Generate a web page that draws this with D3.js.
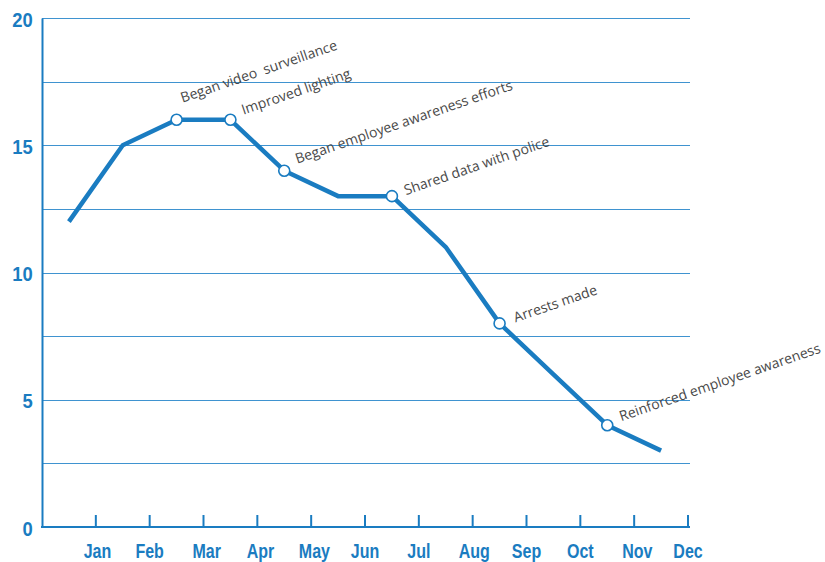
<!DOCTYPE html>
<html><head><meta charset="utf-8">
<script src="https://cdn.jsdelivr.net/npm/d3@7"></script>
<style>
body{margin:0;background:#fff;}
svg{display:block;}
</style></head>
<body>
<script>
const months = ["Jan","Feb","Mar","Apr","May","Jun","Jul","Aug","Sep","Oct","Nov","Dec"];
const values = [12,15,16,16,14,13,13,11,8,6,4,3];
const yTicks = [0,5,10,15,20];
const gridValues = [2.5,5,7.5,10,12.5,15,17.5,20];
const annotations = [
  {month:"Mar", text:"Began video  surveillance", dx:6, dy:-17},
  {month:"Apr", text:"Improved lighting", dx:13, dy:-5},
  {month:"May", text:"Began employee awareness efforts", dx:13, dy:-7},
  {month:"Jul", text:"Shared data with police", dx:14, dy:-1},
  {month:"Sep", text:"Arrests made", dx:16, dy:-1},
  {month:"Nov", text:"Reinforced employee awareness", dx:14, dy:-4}
];

(function(){
const W=825,H=562;
const blue="#1a7cc1";
const svg=d3.select("body").append("svg").attr("width",W).attr("height",H);
const mLeft=42,mRight=688,mTop=18,mBottom=527;
const x=d3.scaleBand().domain(months).range([mLeft,mRight]);
const y=d3.scaleLinear().domain([0,20]).range([mBottom,mTop]);
const cx=m=>x(m)+x.bandwidth()/2;

// gridlines
svg.append("g").selectAll("line").data(gridValues).join("line")
  .attr("x1",mLeft).attr("x2",690).attr("y1",d=>Math.round(y(d))+0.5).attr("y2",d=>Math.round(y(d))+0.5)
  .attr("stroke","#3f93d0").attr("stroke-width",1.2);

// y axis
const yAxis=d3.axisLeft(y).tickValues(yTicks).tickSize(0).tickPadding(10);
const gy=svg.append("g").attr("transform",`translate(${mLeft},0)`).call(yAxis);
gy.select(".domain").attr("stroke",blue).attr("stroke-width",2);
gy.selectAll("text").attr("fill",blue).attr("font-family","Liberation Sans, Arial, sans-serif")
  .attr("font-weight","bold").attr("font-size",20).attr("dy","0.4em")
  .attr("transform","scale(0.92,1)");

// x axis
const xAxis=d3.axisBottom(x).tickSize(-12).tickPadding(0).tickSizeOuter(0);
const gx=svg.append("g").attr("transform",`translate(0,${mBottom})`).call(xAxis);
gx.select(".domain").attr("stroke",blue).attr("stroke-width",2).attr("d",`M${mLeft-1},0H690`);
gx.selectAll(".tick").attr("transform",d=>`translate(${x(d)+x.bandwidth()},0)`);
gx.selectAll(".tick line").attr("stroke",blue).attr("stroke-width",2);
gx.selectAll(".tick text").attr("fill",blue).attr("y",31).attr("dy",0)
  .attr("x",d=>d==="Jan"?2:(d==="Mar"||d==="Apr"||d==="May"||d==="Nov")?4:(d==="Aug")?2:0)
  .attr("font-family","Liberation Sans, Arial, sans-serif")
  .attr("font-weight","bold").attr("font-size",20).attr("transform","scale(0.8,1)");

// line
const line=d3.line().x((d,i)=>cx(months[i])).y(d=>y(d));
svg.append("path").datum(values).attr("d",line).attr("fill","none")
  .attr("stroke",blue).attr("stroke-width",4.5).attr("stroke-linejoin","round").attr("stroke-linecap","butt");

// annotation markers & text
const ann=svg.append("g");
annotations.forEach(a=>{
  const i=months.indexOf(a.month);
  const px=cx(a.month), py=y(values[i]);
  ann.append("circle").attr("cx",px).attr("cy",py).attr("r",5.5)
    .attr("fill","white").attr("stroke",blue).attr("stroke-width",1.6);
  ann.append("text").attr("transform",`translate(${px+a.dx},${py+a.dy}) rotate(-19)`)
    .attr("font-family","Open Sans, DejaVu Sans, sans-serif").attr("font-size",14)
    .style("white-space","pre")
    .attr("fill","#484848").text(a.text);
});
})();
</script>
</body></html>
